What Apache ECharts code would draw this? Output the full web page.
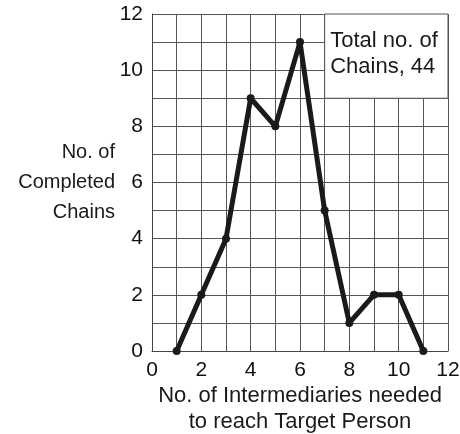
<!DOCTYPE html>
<html><head><meta charset="utf-8">
<script src="https://cdn.jsdelivr.net/npm/echarts@6/dist/echarts.min.js"></script>
<style>html,body{margin:0;padding:0;background:#fff}#c{width:460px;height:434px}</style>
</head><body><div id="c"></div>
<script>
const intermediaries = [1, 2, 3, 4, 5, 6, 7, 8, 9, 10, 11];
const completedChains = [0, 2, 4, 9, 8, 11, 5, 1, 2, 2, 0];
const xTicks = [0, 2, 4, 6, 8, 10, 12];
const yTicks = [0, 2, 4, 6, 8, 10, 12];
const noteText = 'Total no. of\nChains, 44';
const noteBox = [[7, 9], [12, 12]];

const font = 'Liberation Sans, Arial, sans-serif';
const chart = echarts.init(document.getElementById('c'));
chart.setOption({
  backgroundColor: '#fff',
  animation: false,
  grid: {left: 152, right: 12, top: 14, bottom: 83, containLabel: false, outerBoundsMode: 'none'},
  xAxis: {
    type: 'value', min: 0, max: 12, interval: 1,
    name: 'No. of Intermediaries needed\nto reach Target Person',
    nameLocation: 'middle', nameGap: 32, nameMoveOverlap: false,
    nameTextStyle: {fontFamily: font, fontSize: 22, color: '#1a1a1a', lineHeight: 26},
    axisLine: {show: true, lineStyle: {color: '#444', width: 1}},
    axisTick: {show: false},
    axisLabel: {fontFamily: font, fontSize: 21, color: '#111', margin: 9,
      formatter: v => xTicks.includes(v) ? String(v) : ''},
    splitLine: {show: true, lineStyle: {color: '#555', width: 1}}
  },
  yAxis: {
    type: 'value', min: 0, max: 12, interval: 1,
    name: 'No. of\nCompleted\nChains',
    nameLocation: 'middle', nameRotate: 0, nameGap: 37, nameMoveOverlap: false,
    nameTextStyle: {fontFamily: font, fontSize: 20, color: '#1a1a1a', lineHeight: 30, align: 'right'},
    axisLine: {show: true, lineStyle: {color: '#444', width: 1}},
    axisTick: {show: false},
    axisLabel: {fontFamily: font, fontSize: 21, color: '#111', margin: 9,
      formatter: v => yTicks.includes(v) ? String(v) : ''},
    splitLine: {show: true, lineStyle: {color: '#555', width: 1}}
  },
  series: [{
    type: 'line',
    data: intermediaries.map((x, i) => [x, completedChains[i]]),
    symbol: 'circle', symbolSize: 8,
    itemStyle: {color: '#1a1a1a'},
    lineStyle: {color: '#1a1a1a', width: 5},
    markArea: {
      silent: true,
      itemStyle: {color: '#fff', borderColor: '#555', borderWidth: 1},
      label: {show: true, position: [6, 14],
        fontFamily: font, fontSize: 22, lineHeight: 26, color: '#1a1a1a'},
      data: [[{coord: noteBox[0], name: noteText}, {coord: noteBox[1]}]]
    }
  }]
});
</script></body></html>
